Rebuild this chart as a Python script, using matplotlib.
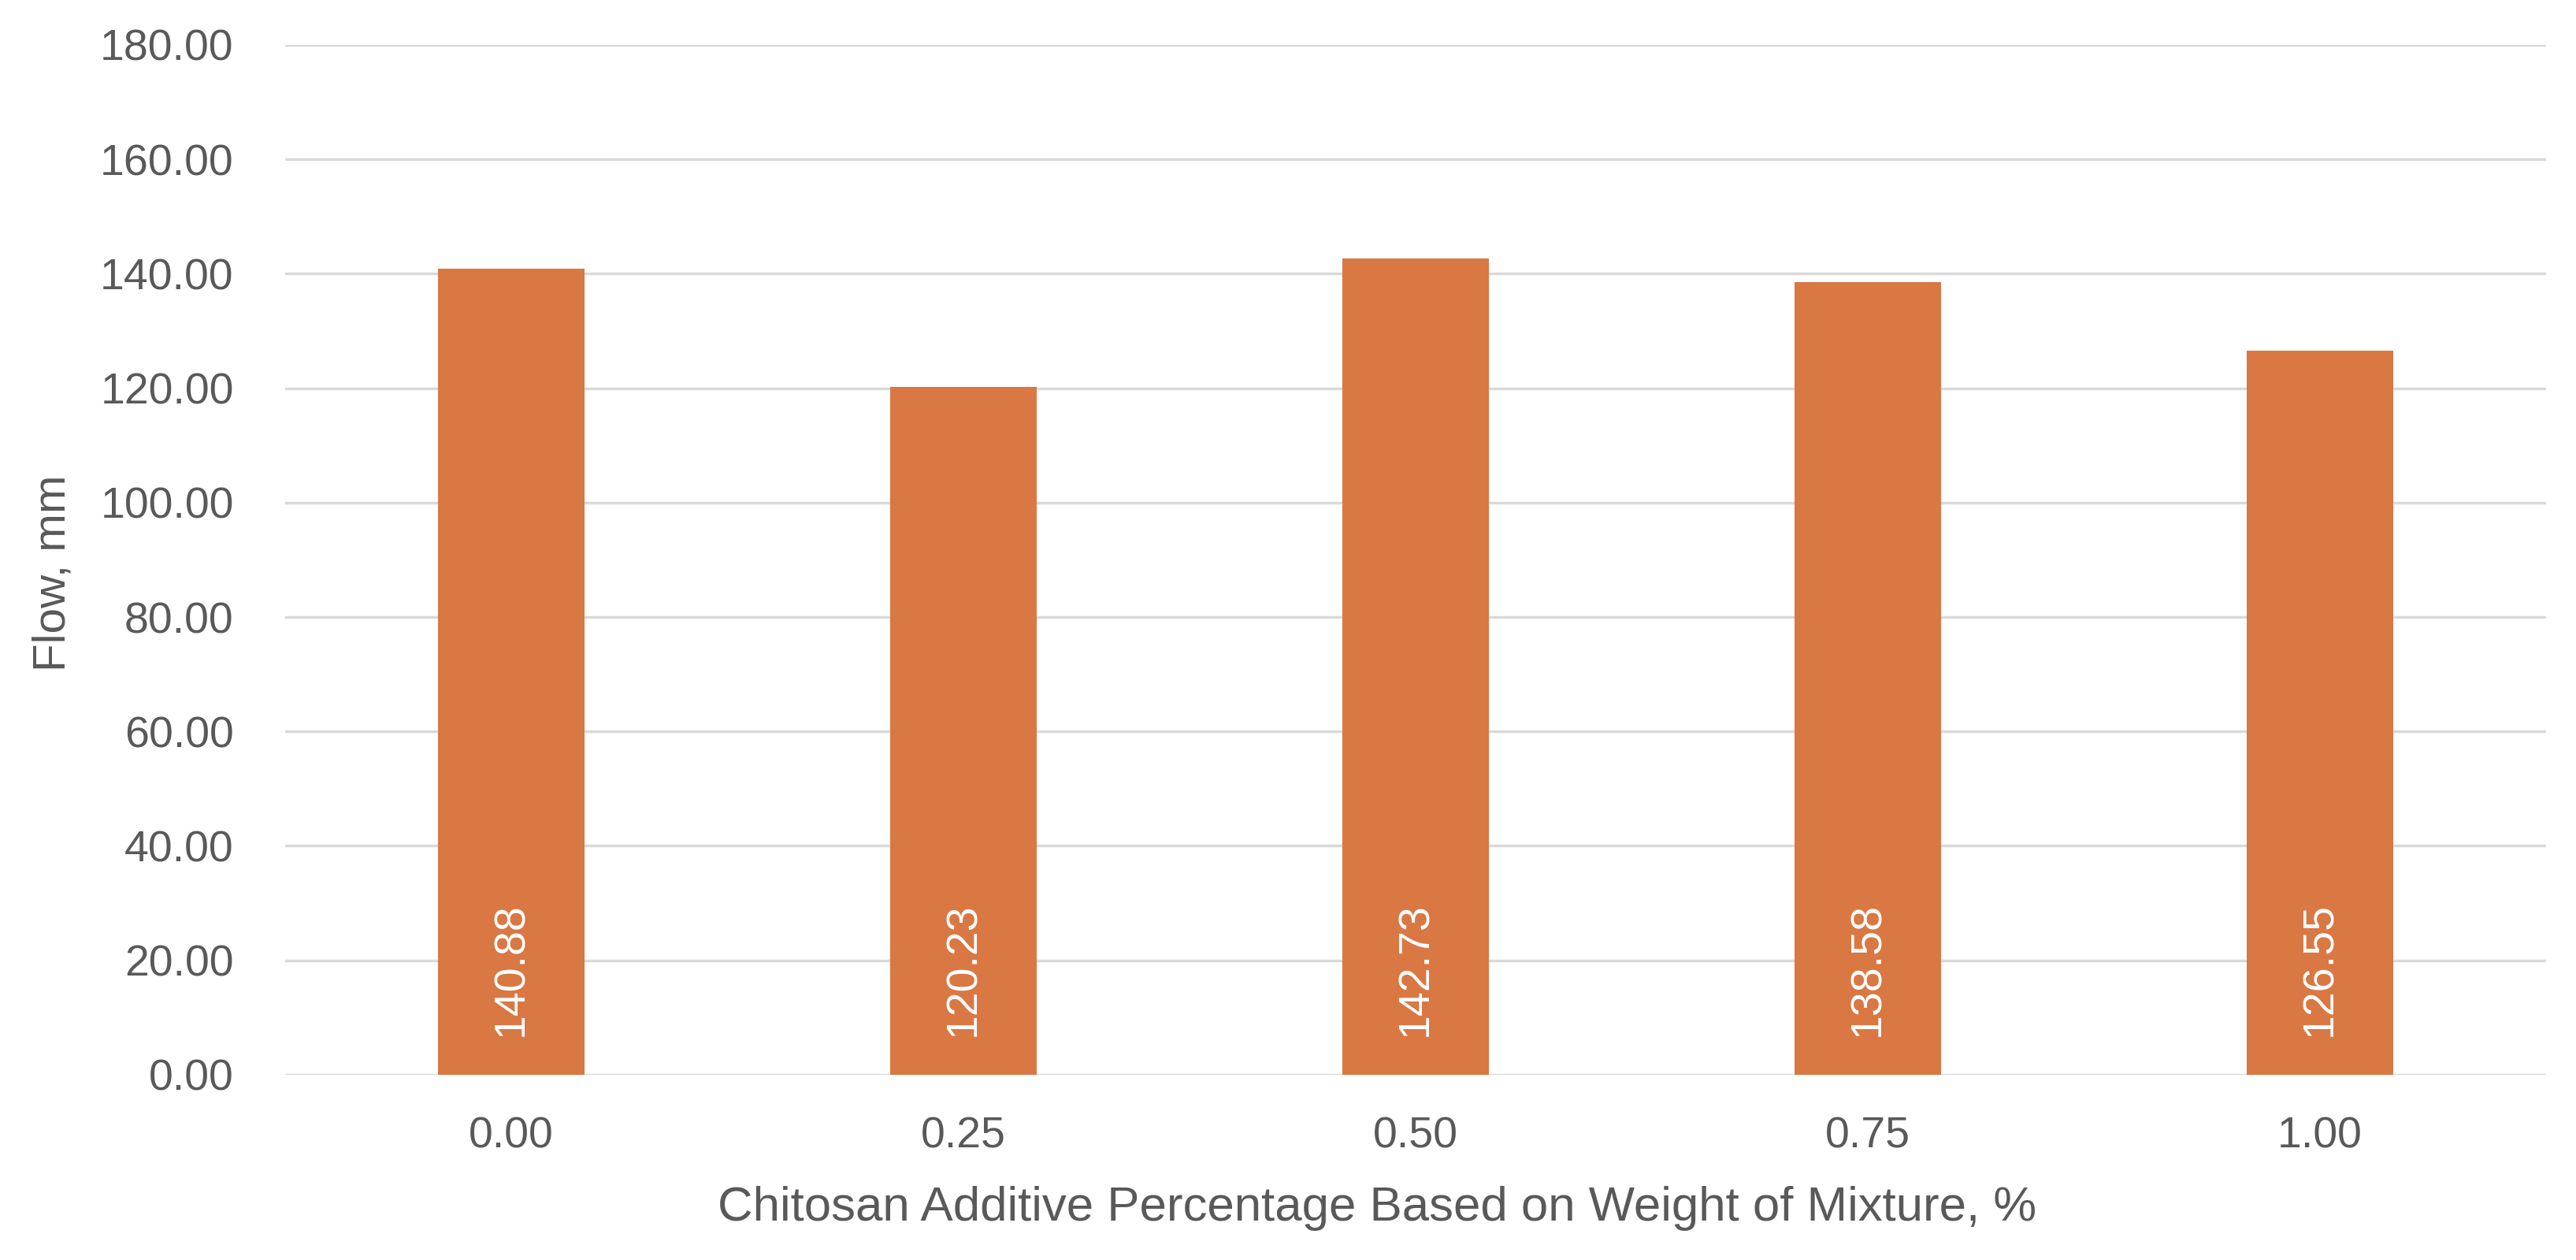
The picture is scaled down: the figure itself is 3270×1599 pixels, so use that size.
"""
Flow vs chitosan additive percentage - bar chart
"""
import matplotlib
matplotlib.use('Agg')
import matplotlib.pyplot as plt

# data
categories = ['0.00', '0.25', '0.50', '0.75', '1.00']
flow_values = [140.88, 120.23, 142.73, 138.58, 126.55]
y_ticks = [0, 20, 40, 60, 80, 100, 120, 140, 160, 180]

BAR_COLOR = '#D97843'
TEXT_COLOR = '#595959'
GRID_COLOR = '#D9D9D9'

plt.rcParams['font.family'] = ['Liberation Sans', 'DejaVu Sans']

fig = plt.figure(figsize=(32.7, 15.99), dpi=100)
ax = fig.add_axes([0.1107, 0.147, 0.8777, 0.8174])

x = list(range(len(categories)))
bars = ax.bar(x, flow_values, width=0.325, color=BAR_COLOR, zorder=3)

# value labels inside the bar base, rotated
for bar, val in zip(bars, flow_values):
    ax.annotate(f'{val:.2f}', xy=(bar.get_x() + bar.get_width() / 2, 0),
                xytext=(0, 35), textcoords='offset points',
                rotation=90, ha='center', va='bottom',
                color='white', fontsize=40, zorder=4)

ax.set_xlim(-0.5, 4.5)
ax.set_ylim(0, 180)
ax.set_xticks(x)
ax.set_xticklabels(categories)
ax.set_yticks(y_ticks)
ax.set_yticklabels([f'{t:.2f}' for t in y_ticks])

ax.tick_params(axis='both', length=0, labelsize=40, labelcolor=TEXT_COLOR)
ax.tick_params(axis='x', pad=38)
ax.tick_params(axis='y', pad=47)

ax.grid(axis='y', color=GRID_COLOR, linewidth=2.5, zorder=0)
for side in ['top', 'right', 'left', 'bottom']:
    ax.spines[side].set_visible(False)

# axis titles (x title sits a bit left of the plot centre in the original)
fig.text(0.5346, 0.041, 'Chitosan Additive Percentage Based on Weight of Mixture, %',
         ha='center', va='center', fontsize=44.5, color=TEXT_COLOR)
fig.text(0.0205, 0.545, 'Flow, mm', rotation=90, ha='center', va='center',
         fontsize=42, color=TEXT_COLOR)

fig.savefig('out.png', dpi=100, facecolor='white')
plt.close(fig)
